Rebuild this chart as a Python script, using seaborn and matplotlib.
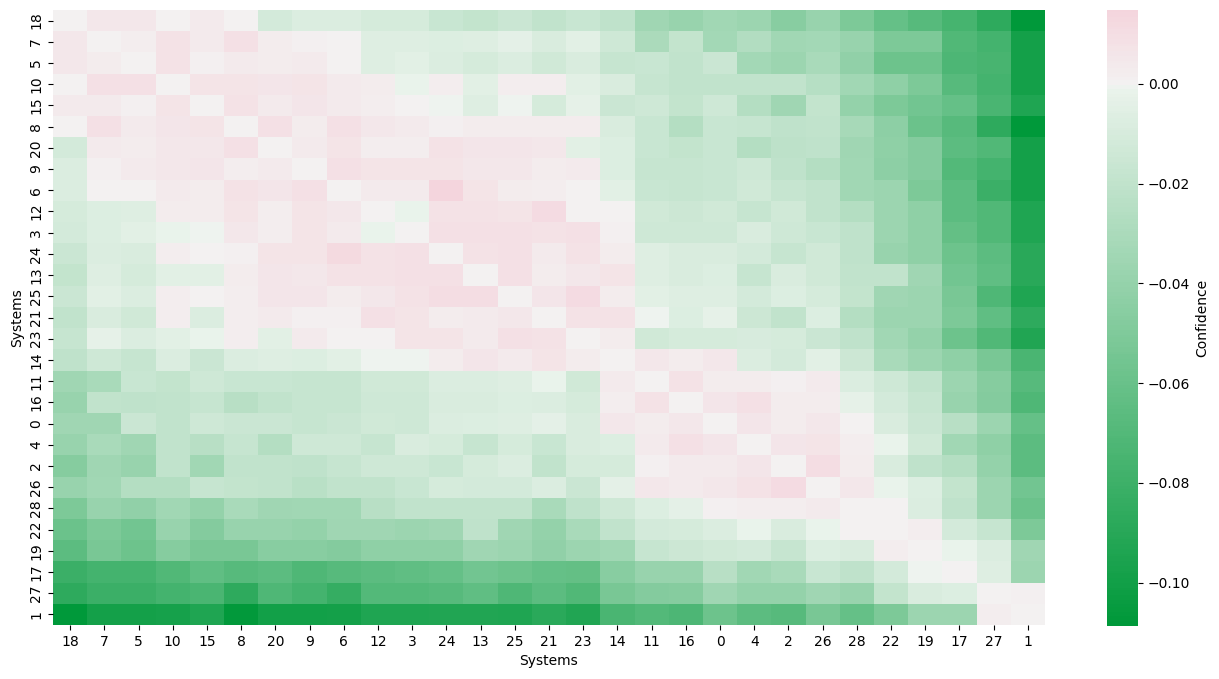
"""
plot.py
Pairwise confidence heatmap between systems.
"""

import numpy as np
import pandas as pd
import matplotlib
matplotlib.use('Agg')
import matplotlib.pyplot as plt
import seaborn as sns

# system order used on both axes
systems = [18, 7, 5, 10, 15, 8, 20, 9, 6, 12, 3, 24, 13, 25, 21,
           23, 14, 11, 16, 0, 4, 2, 26, 28, 22, 19, 17, 27, 1]

# confidence values, one row per system (same order as above)
confidence = [
    [0, .005, .005, 0, .004, 0, -.012, -.008, -.008, -.011, -.011, -.017, -.019, -.016, -.020, -.017, -.021, -.035, -.039, -.034, -.037, -.046, -.039, -.051, -.061, -.068, -.076, -.087, -.1087],
    [.005, 0, .002, .008, .004, .009, .003, .001, 0, -.006, -.006, -.007, -.006, -.004, -.009, -.005, -.014, -.030, -.019, -.033, -.027, -.034, -.033, -.039, -.051, -.051, -.071, -.077, -.099],
    [.005, .003, 0, .008, .001, .004, .003, .004, 0, -.006, -.005, -.008, -.011, -.008, -.013, -.009, -.018, -.017, -.020, -.016, -.033, -.037, -.031, -.042, -.058, -.058, -.073, -.075, -.099],
    [0, .009, .009, 0, .007, .007, .006, .007, .004, .003, -.002, .002, -.005, .002, .002, -.005, -.009, -.018, -.020, -.020, -.020, -.020, -.025, -.034, -.043, -.051, -.068, -.077, -.099],
    [.004, .004, .001, .007, 0, .008, .004, .006, .004, .002, 0, -.001, -.006, -.001, -.011, -.003, -.016, -.014, -.019, -.014, -.026, -.035, -.019, -.040, -.051, -.056, -.061, -.074, -.094],
    [0, .009, .004, .006, .007, 0, .009, .003, .009, .005, .004, .001, .003, .003, .003, .003, -.009, -.017, -.026, -.017, -.018, -.021, -.020, -.032, -.044, -.059, -.068, -.087, -.108],
    [-.012, .004, .003, .005, .005, .009, 0, .004, .007, .002, .002, .008, .006, .006, .005, -.005, -.007, -.017, -.019, -.017, -.026, -.022, -.021, -.035, -.043, -.048, -.066, -.071, -.099],
    [-.008, .001, .004, .005, .006, .002, .004, 0, .009, .007, .007, .007, .005, .005, .003, .004, -.007, -.018, -.018, -.017, -.014, -.021, -.026, -.034, -.044, -.048, -.070, -.077, -.099],
    [-.008, 0, 0, .004, .003, .008, .006, .009, 0, .004, .004, .0148, .007, .003, .002, 0, -.005, -.017, -.018, -.017, -.013, -.018, -.020, -.034, -.037, -.051, -.066, -.081, -.099],
    [-.011, -.007, -.006, .003, .003, .007, .002, .007, .005, 0, -.002, .008, .008, .007, .011, 0, 0, -.013, -.015, -.013, -.018, -.013, -.020, -.026, -.037, -.043, -.066, -.071, -.094],
    [-.012, -.007, -.005, -.002, -.001, .005, .002, .007, .004, -.002, 0, .009, .009, .009, .008, .009, .001, -.014, -.014, -.014, -.009, -.014, -.017, -.021, -.037, -.043, -.062, -.071, -.094],
    [-.016, -.008, -.009, .002, 0, .001, .007, .007, .012, .008, .009, 0, .008, .009, .004, .008, .003, -.006, -.009, -.009, -.012, -.018, -.013, -.021, -.039, -.043, -.058, -.066, -.089],
    [-.019, -.006, -.011, -.005, -.005, .003, .006, .005, .008, .008, .009, .009, 0, .009, .003, .005, .007, -.006, -.009, -.007, -.018, -.009, -.013, -.020, -.020, -.035, -.056, -.064, -.089],
    [-.016, -.005, -.008, .002, 0, .002, .006, .006, .003, .005, .008, .010, .010, 0, .006, .011, .003, -.005, -.006, -.006, -.012, -.007, -.011, -.019, -.035, -.037, -.053, -.072, -.094],
    [-.020, -.009, -.013, .002, -.008, .002, .004, .001, .001, .009, .007, .003, .004, .005, 0, .008, .008, -.001, -.007, -.003, -.015, -.020, -.007, -.026, -.037, -.037, -.051, -.064, -.087],
    [-.018, -.003, -.008, -.005, -.002, .002, -.005, .004, 0, 0, .007, .007, .004, .009, .008, 0, .003, -.013, -.011, -.011, -.010, -.011, -.016, -.021, -.034, -.040, -.058, -.071, -.093],
    [-.021, -.014, -.018, -.008, -.016, -.008, -.006, -.007, -.005, -.001, -.001, .003, .006, .004, .007, .003, 0, .005, .003, .005, -.008, -.012, -.005, -.015, -.031, -.037, -.043, -.053, -.074],
    [-.035, -.031, -.017, -.019, -.014, -.017, -.017, -.018, -.018, -.013, -.013, -.008, -.008, -.006, -.002, -.013, .004, 0, .008, .003, .003, .001, .004, -.008, -.014, -.020, -.037, -.047, -.068],
    [-.039, -.020, -.021, -.020, -.018, -.024, -.020, -.018, -.018, -.014, -.014, -.009, -.009, -.007, -.008, -.011, .002, .008, 0, .006, .009, .003, .003, -.003, -.012, -.018, -.039, -.048, -.072],
    [-.035, -.035, -.016, -.020, -.014, -.016, -.016, -.018, -.016, -.013, -.014, -.008, -.007, -.006, -.004, -.009, .005, .003, .005, 0, .006, .003, .005, 0, -.009, -.016, -.024, -.037, -.061],
    [-.039, -.031, -.035, -.020, -.024, -.018, -.026, -.014, -.014, -.018, -.009, -.011, -.018, -.011, -.017, -.009, -.007, .004, .009, .006, 0, .006, .007, .002, -.002, -.013, -.034, -.043, -.066],
    [-.047, -.035, -.039, -.020, -.034, -.020, -.020, -.021, -.018, -.014, -.014, -.017, -.011, -.008, -.020, -.011, -.011, .001, .004, .004, .006, 0, .010, .003, -.009, -.021, -.026, -.040, -.066],
    [-.039, -.034, -.026, -.026, -.018, -.019, -.020, -.023, -.020, -.020, -.017, -.011, -.012, -.012, -.008, -.016, -.004, .005, .004, .005, .008, .011, 0, .005, -.002, -.007, -.019, -.037, -.056],
    [-.051, -.039, -.042, -.034, -.040, -.031, -.035, -.034, -.034, -.024, -.020, -.020, -.020, -.020, -.031, -.021, -.014, -.007, -.004, .001, .002, .002, .004, 0, 0, -.008, -.021, -.037, -.059],
    [-.059, -.051, -.056, -.039, -.048, -.039, -.039, -.040, -.035, -.035, -.037, -.035, -.021, -.035, -.040, -.031, -.020, -.012, -.011, -.008, -.002, -.009, -.002, 0, 0, .002, -.012, -.018, -.051],
    [-.066, -.053, -.058, -.047, -.053, -.053, -.046, -.046, -.048, -.043, -.043, -.043, -.035, -.037, -.042, -.037, -.034, -.018, -.015, -.013, -.012, -.018, -.007, -.009, .002, 0, -.002, -.008, -.035],
    [-.081, -.077, -.077, -.071, -.064, -.068, -.066, -.072, -.068, -.066, -.064, -.061, -.056, -.058, -.061, -.062, -.046, -.039, -.039, -.024, -.034, -.031, -.017, -.021, -.012, -.001, 0, -.006, -.037],
    [-.087, -.081, -.081, -.077, -.074, -.087, -.072, -.077, -.084, -.070, -.070, -.068, -.064, -.072, -.066, -.071, -.053, -.048, -.047, -.035, -.040, -.040, -.035, -.039, -.019, -.009, -.007, 0, .001],
    [-.108, -.099, -.099, -.098, -.094, -.107, -.100, -.100, -.099, -.094, -.094, -.093, -.093, -.094, -.088, -.093, -.074, -.070, -.073, -.058, -.066, -.068, -.053, -.061, -.051, -.037, -.037, .002, 0],
]

df = pd.DataFrame(np.array(confidence), index=systems, columns=systems)

cmap = sns.diverging_palette(133, 5, s=100, l=55, center='light', as_cmap=True)

fig = plt.figure(figsize=(12.19, 6.79), dpi=100)
ax = fig.add_axes([53 / 1219, 54 / 679, 992 / 1219, 615 / 679])
cax = fig.add_axes([1107 / 1219, 53 / 679, 31 / 1219, 616 / 679])

sns.heatmap(df, cmap=cmap, center=0, ax=ax, cbar_ax=cax,
            cbar_kws={'label': 'Confidence'})
ax.set_xlabel('Systems')
ax.set_ylabel('Systems')
ax.set_xticklabels(systems, rotation=0)
ax.set_yticklabels(systems, rotation=90, va='center')

plt.savefig('out.png', dpi=100)
